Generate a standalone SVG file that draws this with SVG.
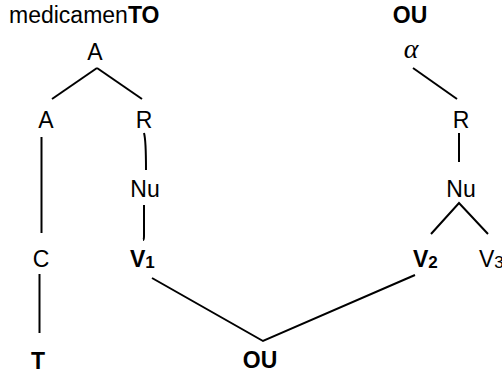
<svg xmlns="http://www.w3.org/2000/svg" width="502" height="374" viewBox="0 0 502 374">
<style>
text{font-family:"Liberation Sans",Arial,sans-serif;font-size:23px;fill:#000}
.b{font-weight:bold}
.m{text-anchor:middle}
.sub{font-size:17px}
.alpha{font-family:"Liberation Serif","DejaVu Serif",serif;font-style:italic;font-size:28px}
.e{fill:none;stroke:#000;stroke-width:2}
</style>
<rect width="502" height="374" fill="#fff"/>
<g id="connectors">
<path class="e" d="M97 68 L52 99"/>
<path class="e" d="M97 68 L142 99"/>
<path class="e" d="M41.5 137 L41.5 233"/>
<path class="e" d="M39.5 274 L39.5 333"/>
<path class="e" d="M144 133 Q146 140 146 170"/>
<path class="e" d="M144 205 L144 236 Q144 240 143 240"/>
<path class="e" d="M152 278 L263 341 L415 275"/>
<path class="e" d="M413 68 L457 99"/>
<path class="e" d="M459 133 L459 162"/>
<path class="e" d="M431 234 L459 203 L488 234"/>
</g>
<g id="title-left"><text x="9" y="23">medicamen<tspan class="b">TO</tspan></text></g>
<g id="title-right"><text class="b m" x="410" y="23">OU</text></g>
<g id="A-top"><text class="m" x="95" y="60">A</text></g>
<g id="A-left"><text class="m" x="46" y="128">A</text></g>
<g id="R-left"><text class="m" x="144" y="128">R</text></g>
<g id="C"><text class="m" x="41" y="267">C</text></g>
<g id="T"><text class="b m" x="38" y="369">T</text></g>
<g id="Nu-left"><text class="m" x="145" y="197">Nu</text></g>
<g id="V1"><text class="b" x="130" y="267">V<tspan class="sub" dy="1">1</tspan></text></g>
<g id="OU-bottom"><text class="b m" x="260" y="368">OU</text></g>
<g id="alpha"><text class="alpha m" x="411" y="58">α</text></g>
<g id="R-right"><text class="m" x="461" y="128">R</text></g>
<g id="Nu-right"><text class="m" x="461" y="197">Nu</text></g>
<g id="V2"><text class="b" x="413" y="267">V<tspan class="sub" dy="1">2</tspan></text></g>
<g id="V3"><text x="479" y="267">V<tspan class="sub" dy="1">3</tspan></text></g>
</svg>
